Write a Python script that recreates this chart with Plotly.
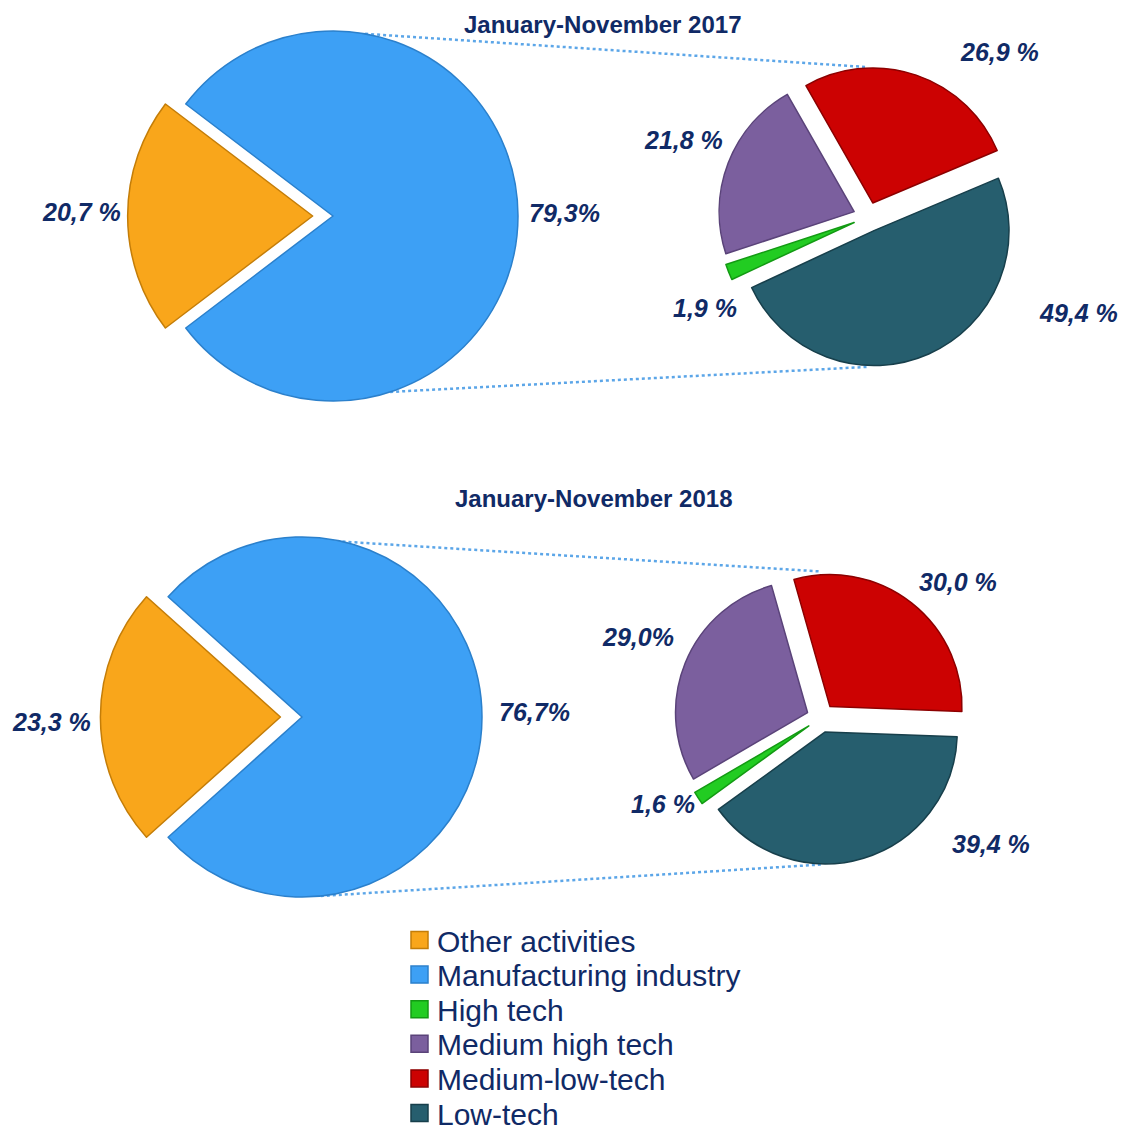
import math
import plotly.graph_objects as go

# canvas in pixels, margins are zero so paper coords map straight to pixels
W, H = 1127, 1135

big_labels = ["Other activities", "Manufacturing industry"]
small_labels = ["High tech", "Medium high tech", "Medium-low-tech", "Low-tech"]

periods = ["January-November 2017", "January-November 2018"]

big_2017 = [20.7, 79.3]
small_2017 = [1.9, 21.8, 26.9, 49.4]
big_2018 = [23.3, 76.7]
small_2018 = [1.6, 29.0, 30.0, 39.4]

big_text_2017 = ["20,7 %", "79,3%"]
small_text_2017 = ["1,9 %", "21,8 %", "26,9 %", "49,4 %"]
big_text_2018 = ["23,3 %", "76,7%"]
small_text_2018 = ["1,6 %", "29,0%", "30,0 %", "39,4 %"]

BIG_COLORS = ["#F9A61B", "#3DA0F5"]
BIG_EDGES = ["#C47D08", "#2B80CC"]
SMALL_COLORS = ["#22CC22", "#7B5F9E", "#CC0202", "#265E6E"]
SMALL_EDGES = ["#139A13", "#5A4379", "#8C0000", "#173F4B"]

NAVY = "#102A66"
FONT = "Liberation Sans, Arial, sans-serif"

# pie geometry (pixels): center, radius, pull, rotation
panels = [
    dict(title=periods[0], title_xy=(603, 25),
         big=dict(values=big_2017, text=big_text_2017, c=(333, 216), r=185, pull=0.11),
         small=dict(values=small_2017, text=small_text_2017, c=(868, 217), r=135, pull=0.11, rot=245),
         big_lbl=[(81, 212), (564, 213)],
         small_lbl=[(705, 308), (683, 140), (999, 52), (1078, 313)],
         link=(10, 162)),
    dict(title=periods[1], title_xy=(593, 498),
         big=dict(values=big_2018, text=big_text_2018, c=(302, 717), r=180, pull=0.12),
         small=dict(values=small_2018, text=small_text_2018, c=(821, 718), r=132, pull=0.11, rot=234),
         big_lbl=[(51, 722), (534, 712)],
         small_lbl=[(663, 804), (638, 637), (958, 582), (991, 844)],
         link=(13, 174)),
]


def domain(c, r, pull):
    half = r * (1 + pull)
    cx, cy = c
    return dict(x=[(cx - half) / W, (cx + half) / W],
                y=[1 - (cy + half) / H, 1 - (cy - half) / H])


def on_circle(c, r, angle):
    a = math.radians(angle)
    return c[0] + r * math.sin(a), c[1] - r * math.cos(a)


def px(x, y):
    return x / W, 1 - y / H


fig = go.Figure()
annotations = []
shapes = []

for i, p in enumerate(panels):
    b, s = p["big"], p["small"]
    other_share = b["values"][0] / sum(b["values"]) * 360
    fig.add_trace(go.Pie(
        labels=big_labels, values=b["values"], sort=False, direction="clockwise",
        rotation=270 - other_share / 2,
        pull=[b["pull"], 0], textinfo="none", hoverinfo="label+percent",
        marker=dict(colors=BIG_COLORS, line=dict(color=BIG_EDGES, width=1.5)),
        domain=domain(b["c"], b["r"], b["pull"]),
        showlegend=False,
    ))
    fig.add_trace(go.Pie(
        labels=small_labels, values=s["values"], sort=False, direction="clockwise",
        rotation=s["rot"],
        pull=[s["pull"]] * len(s["values"]), textinfo="none", hoverinfo="label+percent",
        marker=dict(colors=SMALL_COLORS, line=dict(color=SMALL_EDGES, width=1.5)),
        domain=domain(s["c"], s["r"], s["pull"]),
        showlegend=False,
    ))

    tx, ty = px(*p["title_xy"])
    annotations.append(dict(
        text="<b>%s</b>" % p["title"], x=tx, y=ty,
        xref="paper", yref="paper", showarrow=False,
        font=dict(family=FONT, size=24, color=NAVY), xanchor="center", yanchor="middle"))

    for txt, pos in zip(b["text"] + s["text"], p["big_lbl"] + p["small_lbl"]):
        lx, ly = px(*pos)
        annotations.append(dict(
            text="<b><i>%s</i></b>" % txt, x=lx, y=ly,
            xref="paper", yref="paper", showarrow=False,
            font=dict(family=FONT, size=25, color=NAVY),
            xanchor="center", yanchor="middle"))

    # dotted series lines between the two pies
    top_a, bot_a = p["link"]
    rs = s["r"] * (1 + s["pull"])
    for a_big, a_small in [(top_a, 0), (bot_a, 180)]:
        x0, y0 = px(*on_circle(b["c"], b["r"], a_big))
        x1, y1 = px(*on_circle(s["c"], rs, a_small))
        shapes.append(dict(type="line", xref="paper", yref="paper",
                           x0=x0, y0=y0, x1=x1, y1=y1,
                           line=dict(color="#5CA6E8", width=2.5, dash="dot"),
                           layer="below"))

# legend drawn by hand: the original packs large text into tight rows
legend_labels = big_labels + small_labels
legend_colors = BIG_COLORS + SMALL_COLORS
legend_edges = BIG_EDGES + SMALL_EDGES
for k, (lab, col, edge) in enumerate(zip(legend_labels, legend_colors, legend_edges)):
    yc = 940 + 34.6 * k
    x0, y0 = px(411, yc - 8.5)
    x1, y1 = px(428, yc + 8.5)
    shapes.append(dict(type="rect", xref="paper", yref="paper",
                       x0=x0, y0=y0, x1=x1, y1=y1,
                       fillcolor=col, line=dict(color=edge, width=1.5)))
    lx, ly = px(435, yc + 1)
    annotations.append(dict(
        text=lab, x=lx, y=ly, xref="paper", yref="paper", showarrow=False,
        font=dict(family=FONT, size=30, color=NAVY),
        xanchor="left", yanchor="middle"))

fig.update_layout(
    width=W, height=H,
    margin=dict(l=0, r=0, t=0, b=0, autoexpand=False),
    paper_bgcolor="white", plot_bgcolor="white",
    annotations=annotations, shapes=shapes,
    showlegend=False,
)

fig.write_html("out.html", config={"displayModeBar": False},
               post_script="document.body.style.margin='0';")
